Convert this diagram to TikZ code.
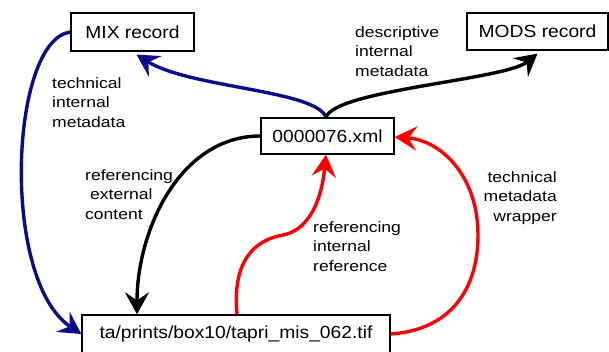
\documentclass[tikz,border=0pt]{standalone}
\usepackage{fontspec}
\setmainfont{Liberation Sans}
\newfontfamily\boxfont[FakeStretch=1.1]{Liberation Sans}
\newfontfamily\lblfont[FakeStretch=1.17]{Liberation Sans}
\usetikzlibrary{arrows.meta}
\definecolor{navy}{RGB}{10,10,140}
\definecolor{redline}{RGB}{255,0,0}
\tikzset{
  recbox/.style={draw, line width=1.3pt, inner sep=0pt, font=\boxfont\fontsize{17.5}{21}\selectfont},
  lbl/.style={inner sep=0pt, font=\lblfont\fontsize{15}{19.5}\selectfont},
  conn/.style={line width=3.4pt, -{Stealth[length=22pt,width=24pt,inset=8pt]}},
}
\begin{document}
\begin{tikzpicture}[x=1pt,y=1pt]
\useasboundingbox (0,0) rectangle (609,-351);
% boxes
\node[recbox, minimum width=123pt, minimum height=38pt] (mix) at (132.5,-32) {MIX record};
\node[recbox, minimum width=141pt, minimum height=37pt] (mods) at (537.5,-31.5) {MODS record};
\node[recbox, minimum width=133pt, minimum height=36pt] (xml) at (327.5,-136) {0000076.xml};
\node[recbox, minimum width=308pt, minimum height=38pt] (tif) at (236,-334) {ta/prints/box10/tapri\_mis\_062.tif};
% labels
\node[lbl, anchor=base west] (l1) at (52,-88) {\begin{tabular}[t]{@{}l@{}}technical\\internal\\metadata\end{tabular}};
\node[lbl, anchor=base west] (l2) at (355,-37) {\begin{tabular}[t]{@{}l@{}}descriptive\\internal\\metadata\end{tabular}};
\node[lbl, anchor=base west] (l3) at (85,-180) {\begin{tabular}[t]{@{}l@{}}referencing\\\hspace{5pt}external\\content\end{tabular}};
\node[lbl, anchor=base west] (l4) at (313,-232) {\begin{tabular}[t]{@{}l@{}}referencing\\internal\\reference\end{tabular}};
\node[lbl, anchor=base east] (l5) at (557,-182) {\begin{tabular}[t]{@{}r@{}}technical\\metadata\\wrapper\end{tabular}};
% connectors
\draw[conn, navy] ([xshift=-1.5pt]xml.north) .. controls (316,-90) and (190,-88) .. ([xshift=4pt,yshift=-3pt]mix.south);
\draw[conn, black] ([xshift=-1.5pt]xml.north) .. controls (335,-90) and (505,-80) .. ([xshift=0pt,yshift=-3pt]mods.south);
\draw[conn, navy] (mix.west) .. controls (10,-40) and (0,-280) .. (tif.west);
\draw[conn, black] (xml.west) .. controls (180,-136) and (137,-230) .. ([xshift=-99pt]tif.north);
\draw[conn, redline] ([xshift=1pt]tif.north) .. controls (232,-260) and (255,-240) .. (283,-235) .. controls (300,-232) and (320,-215) .. ([xshift=-1.5pt]xml.south);
\draw[conn, redline] (tif.east) .. controls (450,-330) and (478,-290) .. (478,-235) .. controls (478,-175) and (440,-140) .. ([yshift=-1pt]xml.east);
\end{tikzpicture}
\end{document}
